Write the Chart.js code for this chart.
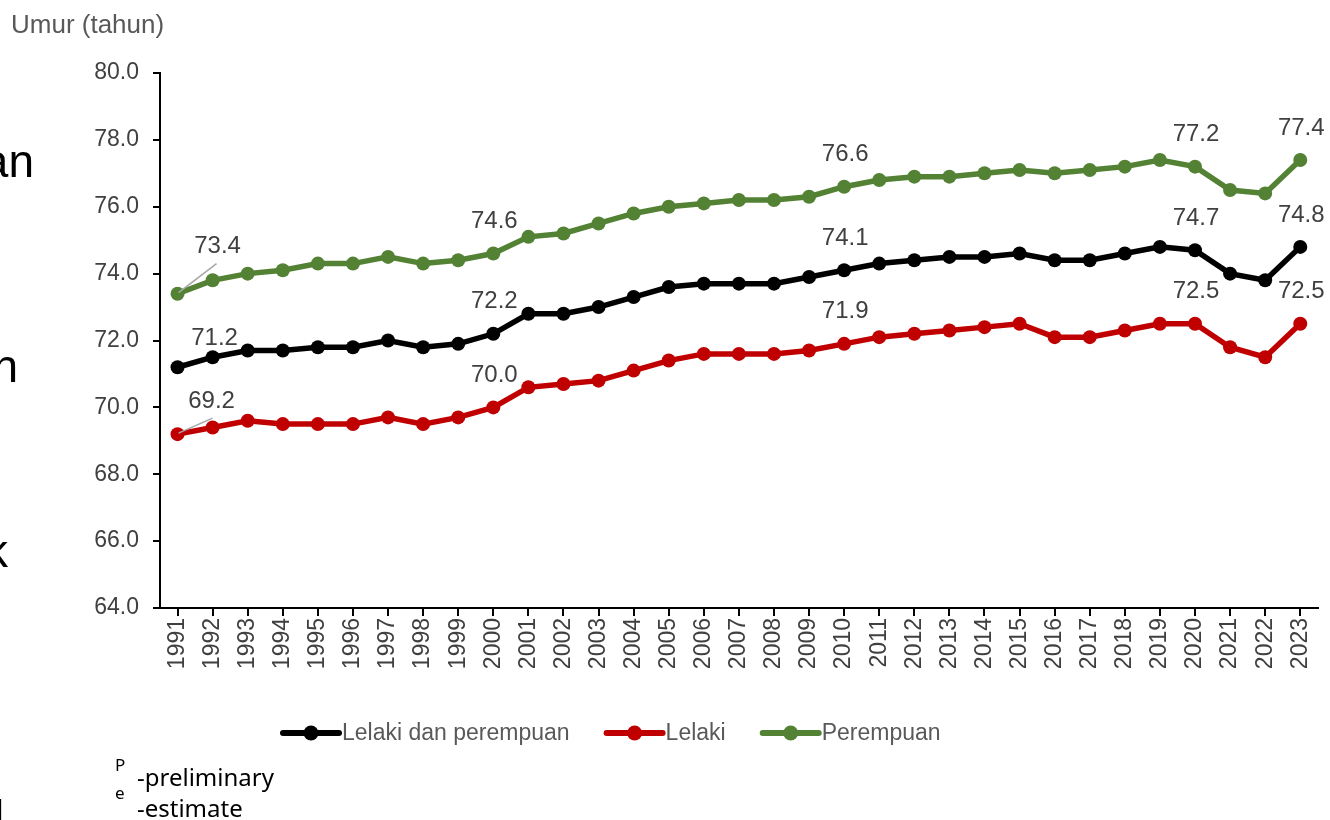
<!DOCTYPE html>
<html>
<head>
<meta charset="utf-8">
<title>Umur (tahun)</title>
<script src="https://cdn.jsdelivr.net/npm/chart.js@4.4.1/dist/chart.umd.min.js"></script>
<style>
  html, body { margin: 0; padding: 0; background: #fff; }
  body { width: 1330px; height: 820px; position: relative; overflow: hidden; font-family: "Liberation Sans", Arial, sans-serif; }
  #wrap { position: absolute; left: 0; top: 0; width: 1330px; height: 820px; }
  .frag { position: absolute; font-size: 46px; line-height: 1; color: #000; white-space: nowrap; }
  #ytitle { position: absolute; left: 11px; top: 11px; font-size: 26px; line-height: 1; color: #595959; white-space: nowrap; }
  .note { position: absolute; font-family: "Noto Sans", sans-serif; color: #000; white-space: nowrap; line-height: 1; }
</style>
</head>
<body>
<div id="wrap"><canvas id="chart" width="1330" height="820"></canvas></div>

<!-- cut-off text from the slide on the left -->
<div class="frag" style="right:1296px; top:138px;">an</div>
<div class="frag" style="right:1312px; top:343px;">n</div>
<div class="frag" style="right:1322px; top:528px;">k</div>
<div class="frag" style="left:-6px; top:794px;">l</div>

<div id="ytitle">Umur (tahun)</div>

<div class="note" style="left:115px; top:756px; font-size:17px;">P</div>
<div class="note" style="left:137px; top:765px; font-size:24px;">-preliminary</div>
<div class="note" style="left:115px; top:784px; font-size:17px;">e</div>
<div class="note" style="left:137px; top:796px; font-size:24px;">-estimate</div>

<script>
// Data
const years = ['1991', '1992', '1993', '1994', '1995', '1996', '1997', '1998', '1999', '2000',
  '2001', '2002', '2003', '2004', '2005', '2006', '2007', '2008', '2009', '2010',
  '2011', '2012', '2013', '2014', '2015', '2016', '2017', '2018', '2019', '2020',
  '2021', '2022', '2023'];

const bothSexes = [71.2, 71.5, 71.7, 71.7, 71.8, 71.8, 72.0, 71.8, 71.9, 72.2,
  72.8, 72.8, 73.0, 73.3, 73.6, 73.7, 73.7, 73.7, 73.9, 74.1,
  74.3, 74.4, 74.5, 74.5, 74.6, 74.4, 74.4, 74.6, 74.8, 74.7,
  74.0, 73.8, 74.8];

const male = [69.2, 69.4, 69.6, 69.5, 69.5, 69.5, 69.7, 69.5, 69.7, 70.0,
  70.6, 70.7, 70.8, 71.1, 71.4, 71.6, 71.6, 71.6, 71.7, 71.9,
  72.1, 72.2, 72.3, 72.4, 72.5, 72.1, 72.1, 72.3, 72.5, 72.5,
  71.8, 71.5, 72.5];

const female = [73.4, 73.8, 74.0, 74.1, 74.3, 74.3, 74.5, 74.3, 74.4, 74.6,
  75.1, 75.2, 75.5, 75.8, 76.0, 76.1, 76.2, 76.2, 76.3, 76.6,
  76.8, 76.9, 76.9, 77.0, 77.1, 77.0, 77.1, 77.2, 77.4, 77.2,
  76.5, 76.4, 77.4];

const seriesNames = ['Lelaki dan perempuan', 'Lelaki', 'Perempuan'];
const yMin = 64;
const yMax = 80;
const yStep = 2;

// points that get a value label (1991, 2000, 2010, 2020, 2023)
const labelledYears = ['1991', '2000', '2010', '2020', '2023'];

// Styles
const colors = ['#000000', '#C00000', '#548235'];
const FONT = '"Liberation Sans", Arial, sans-serif';
// first label sits off to the right, some with a leader line
const firstLabelStyle = [
  { dx: 37, dy: -29, leader: null },
  { dx: 34, dy: -33, leader: [35, -16] },
  { dx: 40, dy: -47, leader: [39, -30] }
];

Chart.defaults.font.family = FONT;

const valueLabels = {
  id: 'valueLabels',
  afterDatasetsDraw(chart) {
    const ctx = chart.ctx;
    ctx.save();
    ctx.font = '24px ' + FONT;
    ctx.textAlign = 'center';
    ctx.textBaseline = 'middle';
    chart.data.datasets.forEach((ds, di) => {
      const meta = chart.getDatasetMeta(di);
      labelledYears.forEach(y => {
        const i = years.indexOf(y);
        const pt = meta.data[i];
        let dx = 1, dy = -32;
        if (i === 0) {
          const s = firstLabelStyle[di];
          dx = s.dx; dy = s.dy;
          if (s.leader) {
            ctx.strokeStyle = '#A6A6A6';
            ctx.lineWidth = 1.5;
            ctx.beginPath();
            ctx.moveTo(pt.x + 1, pt.y - 1);
            ctx.lineTo(pt.x + s.leader[0], pt.y + s.leader[1]);
            ctx.stroke();
          }
        }
        ctx.fillStyle = '#404040';
        ctx.fillText(ds.data[i].toFixed(1), pt.x + dx, pt.y + dy);
      });
    });
    ctx.restore();
  }
};

// legend: line with a dot in the middle, then the name
const lineLegend = {
  id: 'lineLegend',
  afterDraw(chart) {
    const ctx = chart.ctx;
    const y = 733;
    let x = 283;
    ctx.save();
    ctx.font = '23px ' + FONT;
    ctx.textBaseline = 'middle';
    ctx.textAlign = 'left';
    chart.data.datasets.forEach(ds => {
      ctx.strokeStyle = ds.borderColor;
      ctx.lineWidth = 6;
      ctx.lineCap = 'round';
      ctx.beginPath();
      ctx.moveTo(x, y);
      ctx.lineTo(x + 56, y);
      ctx.stroke();
      ctx.fillStyle = ds.borderColor;
      ctx.beginPath();
      ctx.arc(x + 28, y, 7.5, 0, Math.PI * 2);
      ctx.fill();
      ctx.fillStyle = '#595959';
      ctx.fillText(ds.label, x + 59, y + 1);
      x += 59 + ctx.measureText(ds.label).width + 37;
    });
    ctx.restore();
  }
};

function makeSet(label, data, color) {
  return {
    label: label,
    data: data,
    borderColor: color,
    backgroundColor: color,
    borderWidth: 5.5,
    pointRadius: 7,
    pointHoverRadius: 7,
    pointBorderWidth: 0,
    pointBackgroundColor: color,
    tension: 0,
    fill: false
  };
}

const ctx = document.getElementById('chart').getContext('2d');
new Chart(ctx, {
  type: 'line',
  data: {
    labels: years,
    datasets: [
      makeSet(seriesNames[0], bothSexes, colors[0]),
      makeSet(seriesNames[1], male, colors[1]),
      makeSet(seriesNames[2], female, colors[2])
    ]
  },
  options: {
    responsive: false,
    animation: false,
    layout: { padding: { left: 0, top: 73, right: 10, bottom: 0 } },
    plugins: {
      legend: { display: false },
      tooltip: { enabled: false }
    },
    scales: {
      x: {
        offset: true,
        afterFit: s => { s.height = 212; },
        grid: { display: true, drawOnChartArea: false, drawTicks: true, tickLength: 8, color: '#000', lineWidth: 2, offset: false },
        border: { display: true, color: '#000', width: 2 },
        ticks: { color: '#404040', font: { size: 23 }, minRotation: 90, maxRotation: 90, autoSkip: false, padding: 2 }
      },
      y: {
        min: yMin,
        max: yMax,
        afterFit: s => { s.width = 160; },
        grid: { display: true, drawOnChartArea: false, drawTicks: true, tickLength: 7, color: '#000', lineWidth: 2 },
        border: { display: true, color: '#000', width: 2 },
        ticks: { stepSize: yStep, color: '#404040', font: { size: 23 }, padding: 14, callback: v => v.toFixed(1) }
      }
    }
  },
  plugins: [valueLabels, lineLegend]
});
</script>
</body>
</html>
